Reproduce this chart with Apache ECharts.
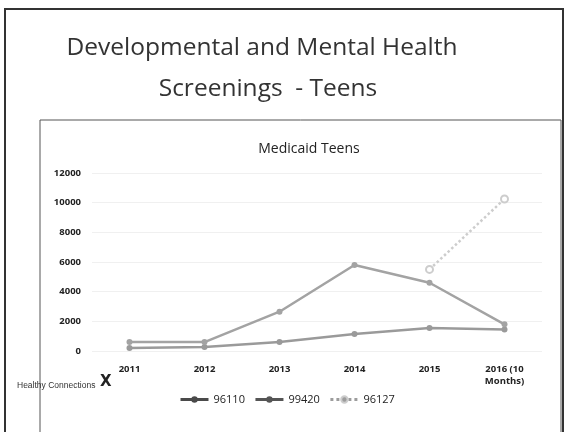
<!DOCTYPE html>
<html>
<head>
<meta charset="utf-8">
<script src="https://cdn.jsdelivr.net/npm/echarts@6/dist/echarts.min.js"></script>
<style>
  html, body { margin: 0; padding: 0; background: #fff; }
  #chart { width: 569px; height: 432px; }
</style>
</head>
<body>
<div id="chart"></div>
<script>
// years on the x axis
const years = ['2011', '2012', '2013', '2014', '2015', '2016 (10\nMonths)']
// screenings per CPT code
const s96110 = [200, 270, 600, 1150, 1550, 1450]
const s99420 = [600, 600, 2650, 5800, 4600, 1800]
const s96127 = [null, null, null, null, 5500, 10250]
const seriesNames = ['96110', '99420', '96127']

const chart = echarts.init(document.getElementById('chart'))

const lineColors = ['#9a9a9a', '#a3a3a3', '#cdcdcd']
const legendColors = ['#4a4a4a', '#555555', '#9c9c9c']
const allData = [s96110, s99420, s96127]

const option = {
  animation: false,
  backgroundColor: '#fff',
  graphic: [
    // outer slide frame
    { type: 'rect', shape: { x: 5, y: 9, width: 558, height: 440 }, style: { fill: 'none', stroke: '#333', lineWidth: 2 } },
    // inner chart box
    { type: 'rect', shape: { x: 40, y: 120, width: 521, height: 330 }, style: { fill: 'none', stroke: '#555', lineWidth: 1 } },
    {
      type: 'text', x: 262, y: 36,
      style: { text: 'Developmental and Mental Health', font: '24.5px "Open Sans", sans-serif', fill: '#333', align: 'center' }
    },
    {
      type: 'text', x: 268, y: 77,
      style: { text: 'Screenings  - Teens', font: '24.5px "Open Sans", sans-serif', fill: '#333', align: 'center' }
    },
    {
      type: 'text', left: 17, top: 381,
      style: { text: 'Healthy Connections', font: '8.5px "Liberation Sans Narrow", "Liberation Sans", sans-serif', fill: '#333' }
    },
    {
      type: 'text', left: 100, top: 375,
      style: { text: 'X', font: 'bold 15px "DejaVu Sans", sans-serif', fill: '#222' }
    }
  ],
  title: {
    text: 'Medicaid Teens',
    left: 304,
    top: 137,
    textAlign: 'center',
    textStyle: { fontFamily: 'Open Sans', fontSize: 14, fontWeight: 'normal', color: '#222' }
  },
  legend: {
    left: 174,
    top: 389,
    itemWidth: 28,
    itemHeight: 8,
    itemGap: 9,
    textStyle: { fontFamily: 'Open Sans', fontSize: 11, color: '#222' },
    data: seriesNames.map((n, i) => ({
      name: n,
      itemStyle: { color: legendColors[i] },
      lineStyle: { color: legendColors[i], width: 3 }
    }))
  },
  grid: { left: 92, right: 27, top: 173, bottom: 81 },
  xAxis: {
    type: 'category',
    data: years,
    boundaryGap: true,
    axisLine: { show: false },
    axisTick: { show: false },
    axisLabel: {
      margin: 12, color: '#222', fontFamily: 'Open Sans', fontSize: 9.5, fontWeight: 'bold',
      lineHeight: 12, align: 'center'
    }
  },
  yAxis: {
    type: 'value',
    min: 0,
    max: 12000,
    interval: 2000,
    axisLine: { show: false },
    axisTick: { show: false },
    axisLabel: {
      margin: 11, color: '#222', fontFamily: 'Open Sans', fontSize: 9.5, fontWeight: 'bold',
      formatter: v => String(v)
    },
    splitLine: { lineStyle: { color: '#f0f0f0', width: 1 } }
  },
  series: seriesNames.map((n, i) => ({
    name: n,
    type: 'line',
    data: allData[i],
    symbol: 'circle',
    symbolSize: i === 2 ? 7 : 6,
    connectNulls: false,
    itemStyle: { color: i === 2 ? '#fff' : lineColors[i], borderColor: lineColors[i], borderWidth: i === 2 ? 2 : 0 },
    lineStyle: { color: lineColors[i], width: 2.5, type: i === 2 ? 'dotted' : 'solid' }
  }))
}

chart.setOption(option)
</script>
</body>
</html>
